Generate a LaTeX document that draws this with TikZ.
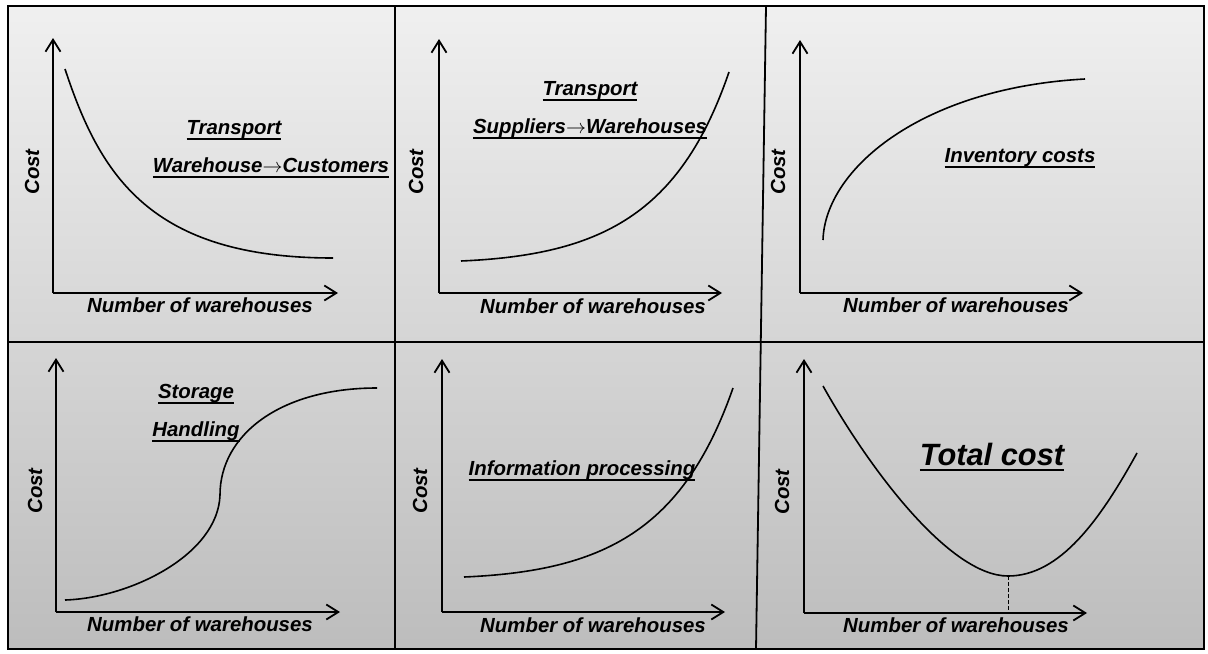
\documentclass[tikz,border=0pt]{standalone}
\usepackage{fontspec}
\setmainfont{Liberation Sans}
\usetikzlibrary{arrows.meta}
\newcommand\ultext[1]{\setbox0\hbox{#1}\rlap{\rule[-2.6pt]{\wd0}{1pt}}\box0}
\begin{document}
\begin{tikzpicture}[
      x = 0.5pt, y = -0.5pt,
      font = \fontsize{10.2}{12}\selectfont\bfseries\itshape,
      frame/.style={draw, line width=0.9pt},
      axis/.style={line width=0.9pt, -{Straight Barb[length=6pt, width=7.5pt]}},
      curve/.style={line width=0.8pt},
      lbl/.style={inner sep=0pt},
      big/.style={inner sep=0pt, font=\fontsize{15.4}{18}\selectfont\bfseries\itshape}]
      \useasboundingbox (0,0) rectangle (1208,653);
      \shade[top color=black!6, bottom color=black!26] (8,6) rectangle (1204,649);
      \draw[frame] (8,6) rectangle (1204,649);
      \draw[frame] (8,342) -- (1204,342);
      \draw[frame] (395,6) -- (395,649);
      \draw[frame] (766,6) -- (756,649);
      % axes and axis labels
      \foreach \ox/\oy/\ty/\ex/\cx/\nx/\ny [count=\i] in {
          53/293/38/338/32/200/305, 439/293/39/722/416/593/306,
          800/293/40/1083/778/956/305, 56/612/358/340/35/200/624,
          442/612/359/725/420/593/625, 804/613/359/1087/782/956/625}{
        \coordinate (o\i) at (\ox,\oy);
        \draw[axis] (o\i) -- (\ox,\ty);
        \draw[axis] (o\i) -- (\ex,\oy);
        \node[lbl, rotate=90] (cost\i) at (\cx,{\oy-121}) {Cost};
        \node[lbl] (num\i) at (\nx,\ny) {Number of warehouses};
      }
      % cost curves
      \draw[curve] (65,69) .. controls (100,175) and (150,258) .. (333,258);
      \draw[curve] (461,261) .. controls (600,255) and (680,215) .. (729,72);
      \draw[curve] (823,240) .. controls (825,170) and (920,88) .. (1085,79);
      \draw[curve] (65,600) .. controls (130,598) and (218,555) .. (220,495)
                   .. controls (220,435) and (280,388) .. (377,388);
      \draw[curve] (464,577) .. controls (603,571) and (683,531) .. (733,388);
      \draw[curve] (823,386) .. controls (870,470) and (950,576) .. (1008,576)
                   coordinate (min) .. controls (1060,576) and (1100,520) .. (1137,453);
      \draw[dashed, line width=0.5pt, dash pattern=on 2pt off 1pt] (min) -- (min |- o6);
      % titles
      \node[lbl] (tr1) at (234,130) {\ultext{Transport}};
      \node[lbl] (wc) at (271,168) {\ultext{Warehouse$\rightarrow$Customers}};
      \node[lbl] (tr2) at (590,91) {\ultext{Transport}};
      \node[lbl] (sw) at (590,129) {\ultext{Suppliers$\rightarrow$Warehouses}};
      \node[lbl] (inv) at (1020,158) {\ultext{Inventory costs}};
      \node[lbl] (sto) at (196,394) {\ultext{Storage}};
      \node[lbl] (han) at (196,432) {\ultext{Handling}};
      \node[lbl] (info) at (582,471) {\ultext{Information processing}};
      \node[big] (tot) at (992,457) {\ultext{Total cost}};
    \end{tikzpicture}
\end{document}
